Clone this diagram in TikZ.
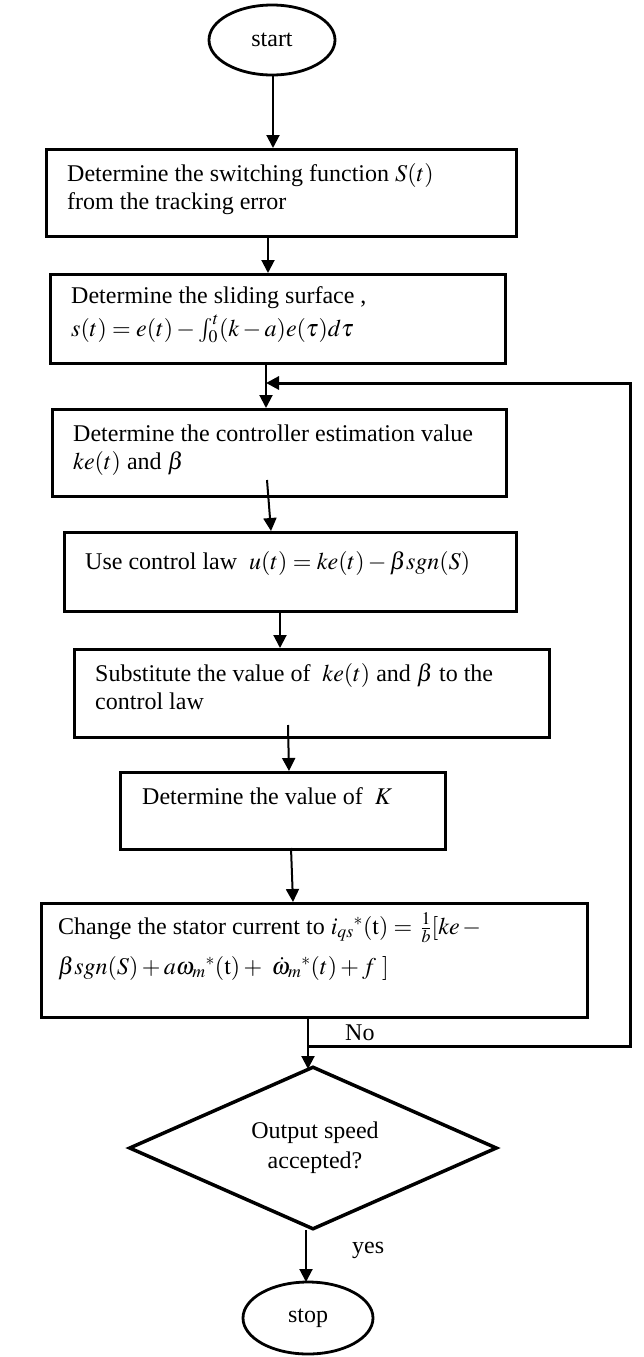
\documentclass[tikz,border=0pt]{standalone}
\usepackage{mathptmx}
\usepackage{fontspec}
\setmainfont{Liberation Serif}
\usetikzlibrary{arrows.meta,shapes.geometric}
\begin{document}
\begin{tikzpicture}[x=1pt,y=-1pt,
  box/.style={draw,line width=3pt,rectangle,inner sep=0pt,anchor=north west},
  term/.style={draw,line width=2.8pt,ellipse,inner sep=0pt,font=\fontsize{24}{28}\selectfont},
  arr/.style={line width=2pt,-{Triangle[width=13pt,length=13pt]}},
  fb/.style={line width=3pt,-{Triangle[width=13pt,length=13pt]}},
  txt/.style={anchor=base west,inner sep=0pt,font=\fontsize{24}{28}\selectfont},
  lbl/.style={anchor=base west,inner sep=0pt,font=\fontsize{24}{28}\selectfont},
]
\fill[white] (0,0) rectangle (643,1357);
\useasboundingbox (0,0) rectangle (643,1357);

% terminals
\node[term,minimum width=126pt,minimum height=70pt] (start) at (272,40) {start};
\node[term,minimum width=130pt,minimum height=72pt] (stop) at (308,1318) {stop};

% boxes
\node[box,minimum width=470pt,minimum height=87pt] (b1) at (45,148) {};
\node[txt] (b1a) at (67,181) {Determine the switching function $S(t)$};
\node[txt] (b1b) at (67,209) {from the tracking error};

\node[box,minimum width=455pt,minimum height=89pt] (b2) at (49,273) {};
\node[txt] (b2a) at (71,303) {Determine the sliding surface ,};
\node[txt] (b2b) at (71,336) {$s(t) = e(t) - \smash{\textstyle\int_0^t} (k-a)e(\tau)d\tau$};

\node[box,minimum width=454pt,minimum height=87pt] (b3) at (51,408) {};
\node[txt] (b3a) at (73,441) {Determine the controller estimation value};
\node[txt] (b3b) at (73,469) {$ke(t)$ and $\beta$};

\node[box,minimum width=452pt,minimum height=79pt] (b4) at (63,531) {};
\node[txt] (b4a) at (85,569) {Use control law\ \ $u(t) = ke(t) - \beta sgn(S)$};

\node[box,minimum width=475pt,minimum height=88pt] (b5) at (73,648) {};
\node[txt] (b5a) at (95,681) {Substitute the value of\ \ $ke(t)$ and $\beta$ to the};
\node[txt] (b5b) at (95,709) {control law};

\node[box,minimum width=325pt,minimum height=77pt] (b6) at (119,771) {};
\node[txt] (b6a) at (142,804) {Determine the value of\ \ $K$};

\node[box,minimum width=546pt,minimum height=114pt] (b7) at (40,902) {};
\node[txt] (b7a) at (58,934) {Change the stator current to $\smash{{i_{qs}}^{*}}(\mathrm{t}) =\, \smash{\frac{1}{b}}[ke\, -$};
\node[txt] (b7b) at (58,974) {$\beta sgn(S) + a\smash{{\omega_m}^{*}}(\mathrm{t}) +\ \smash{\dot{\omega}_m{}^{*}}(t) + f\ ]$};

% decision
\node[draw,diamond,line width=3.5pt,minimum width=368pt,minimum height=163pt,inner sep=0pt,aspect=2.26] (dia) at (313,1148) {};
\node[inner sep=0pt,align=center,font=\fontsize{24}{30}\selectfont] (diat) at (315,1148) {Output speed\\accepted?};

% connector points
\coordinate (s0) at (273,75);
\coordinate (s1) at (273,148);
\coordinate (c1a) at (268,235);
\coordinate (c1b) at (268,273);
\coordinate (c2a) at (266,362);
\coordinate (c2b) at (266,408);
\coordinate (c3a) at (267,480);
\coordinate (c3b) at (271,531);
\coordinate (c4a) at (280,610);
\coordinate (c4b) at (280,648);
\coordinate (c5a) at (288,725);
\coordinate (c5b) at (289,771);
\coordinate (c6a) at (291,848);
\coordinate (c6b) at (293,902);
\coordinate (c7a) at (308,1016);
\coordinate (c7b) at (308,1069);
\coordinate (c8a) at (306,1230);
\coordinate (c8b) at (306,1282);
\coordinate (j1) at (308,1046);
\coordinate (r1) at (630,1046);
\coordinate (r2) at (630,383);
\coordinate (j2) at (266,383);

\draw[arr] (s0) -- (s1);
\draw[arr] (c1a) -- (c1b);
\draw[arr] (c2a) -- (c2b);
\draw[arr] (c3a) -- (c3b);
\draw[arr] (c4a) -- (c4b);
\draw[arr] (c5a) -- (c5b);
\draw[arr] (c6a) -- (c6b);
\draw[arr] (c7a) -- (c7b);
\draw[arr] (c8a) -- (c8b);
\draw[fb] (j1) -- (r1) -- (r2) -- (j2);

\node[lbl] (no) at (345,1040) {No};
\node[lbl] (yes) at (352,1253) {yes};
\end{tikzpicture}
\end{document}
